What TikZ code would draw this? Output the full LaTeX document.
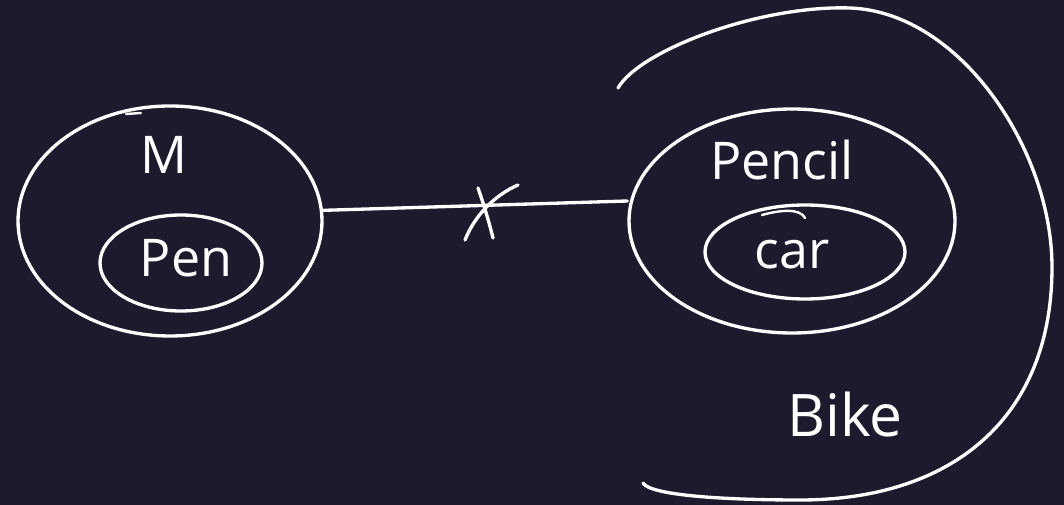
\documentclass[tikz,border=0pt]{standalone}
\usepackage{fontspec}
\setmainfont{Open Sans}
\usetikzlibrary{shapes.geometric}
\definecolor{bgc}{RGB}{30,26,46}
\tikzset{
  ink/.style={draw=white, line width=2.5pt, line cap=round, line join=round},
  setshape/.style={ellipse, ink, inner sep=0pt},
  hand/.style={text=white, font=\fontsize{39}{44}\selectfont, inner sep=0pt}
}
\begin{document}
\begin{tikzpicture}[x=0.75pt, y=-0.75pt]
\fill[bgc] (0,0) rectangle (1064,505);
\useasboundingbox (0,0) rectangle (1064,505);
% left sets
\node[setshape, minimum width=228pt, minimum height=172.5pt] (M) at (170,221) {};
\node[setshape, minimum width=121.5pt, minimum height=72pt] (pen) at (181,263) {};
\node[hand] (Mlbl) at (164,155) {M};
\node[hand] (penlbl) at (186,258) {Pen};
% right sets
\node[setshape, minimum width=244.5pt, minimum height=168pt] (pencil) at (792,221) {};
\node[setshape, minimum width=150pt, minimum height=70.5pt] (car) at (805,252) {};
\node[hand] (pencillbl) at (782,160) {Pencil};
\node[hand] (carlbl) at (792,255) {car};
% connector with cross
\draw[ink] ([yshift=8pt]M.east) -- ([yshift=15pt]pencil.west);
\draw[ink] (478,188) .. controls (484,205) and (489,222) .. (493,238);
\draw[ink] (518,185) .. controls (495,195) and (475,215) .. (465,240);
% bike arc
\draw[ink] (618,88) .. controls (640,50) and (760,5) .. (850,8)
  .. controls (960,12) and (1052,150) .. (1052,267)
  .. controls (1052,420) and (950,500) .. (800,500)
  .. controls (720,500) and (650,495) .. (643,483);
\node[hand, font=\fontsize{44}{48}\selectfont] (bikelbl) at (845,415) {Bike};
% small pen-overlap ticks
\draw[ink, line width=1.8pt] (126,114) -- (141,113);
\draw[ink, line width=1.8pt] (762,215) .. controls (780,210) and (800,208) .. (805,218);
\end{tikzpicture}
\end{document}
